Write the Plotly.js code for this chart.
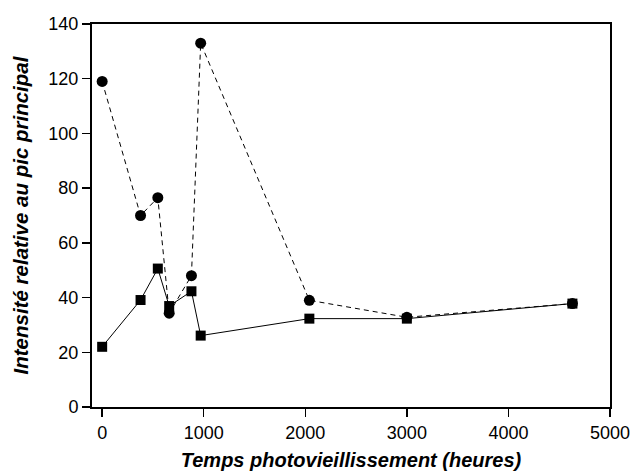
<!DOCTYPE html>
<html><head><meta charset="utf-8">
<script src="https://cdn.plot.ly/plotly-3.0.1.min.js"></script>
<style>body{margin:0;background:#fff}#c{width:632px;height:472px}</style>
</head><body><div id="c"></div>
<script>
const hours = [0, 378, 548, 660, 879, 970, 2040, 3000, 4630];
const circleSeries = [119, 70, 76.5, 34.3, 48, 133, 39, 32.8, 37.8];
const squareSeries = [22, 39.1, 50.6, 36.9, 42.3, 26.1, 32.3, 32.3, 37.8];
const xTicks = [0, 1000, 2000, 3000, 4000, 5000];
const yTicks = [0, 20, 40, 60, 80, 100, 120, 140];

const traces = [
  {x: hours, y: squareSeries, type: 'scatter', mode: 'lines+markers',
   line: {color: '#000', width: 1}, marker: {symbol: 'square', size: 10, color: '#000'}},
  {x: hours, y: circleSeries, type: 'scatter', mode: 'lines+markers',
   line: {color: '#000', width: 1, dash: '5px,4px'}, marker: {symbol: 'circle', size: 11, color: '#000'}}
];
const layout = {
  width: 632, height: 472, showlegend: false,
  paper_bgcolor: '#fff', plot_bgcolor: '#fff',
  margin: {l: 92, r: 22, t: 24, b: 65},
  font: {family: '"Liberation Sans", Arial, sans-serif', color: '#000', size: 18},
  xaxis: {range: [-100, 5000], tickvals: xTicks, ticktext: xTicks.map(String),
    showgrid: false, zeroline: false, showline: true, mirror: true, linecolor: '#000', linewidth: 2,
    ticks: 'outside', ticklen: 8, tickwidth: 1.5, tickcolor: '#000',
    tickfont: {size: 18},
    title: {text: '<b><i>Temps photovieillissement (heures)</i></b>', font: {size: 20}, standoff: 11}},
  yaxis: {range: [0, 140], tickvals: yTicks, ticktext: yTicks.map(String),
    showgrid: false, zeroline: false, showline: true, mirror: true, linecolor: '#000', linewidth: 2,
    ticks: 'outside', ticklen: 8, tickwidth: 1.5, tickcolor: '#000',
    tickfont: {size: 18},
    title: {text: '<b><i>Intensité relative au pic principal</i></b>', font: {size: 20.5}, standoff: 14}}
};
Plotly.newPlot('c', traces, layout, {displayModeBar: false, staticPlot: true});
</script></body></html>
